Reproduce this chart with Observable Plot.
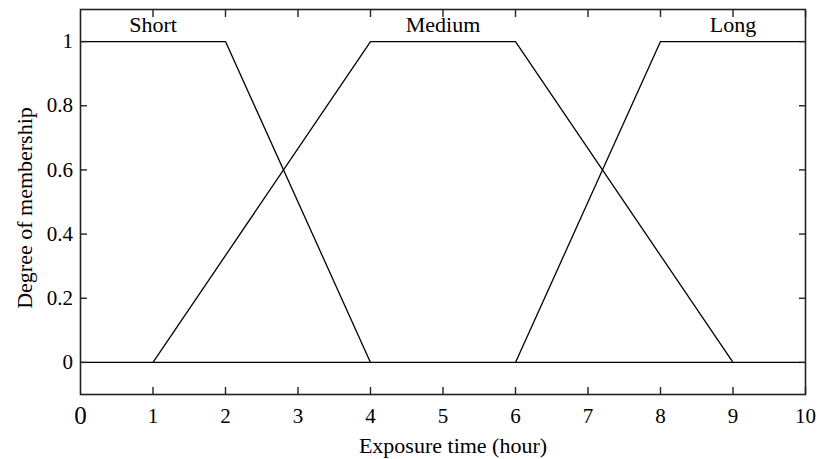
<!DOCTYPE html>
<html><head><meta charset="utf-8">
<script src="https://cdn.jsdelivr.net/npm/d3@7"></script>
<script src="https://cdn.jsdelivr.net/npm/@observablehq/plot@0.6"></script>
<style>body{margin:0;background:#fff}</style>
</head><body><div id="chart"></div>
<script>
// Membership functions (breakpoints)
const shortX = [0, 2, 4];
const shortY = [1, 1, 0];
const mediumX = [1, 4, 6, 9];
const mediumY = [0, 1, 1, 0];
const longX = [6, 8, 10];
const longY = [0, 1, 1];
const setNames = ["Short", "Medium", "Long"];
const setLabelX = [1, 5, 9];
const xTicks = [1, 2, 3, 4, 5, 6, 7, 8, 9, 10];
const yTicks = [0, 0.2, 0.4, 0.6, 0.8, 1];
const yTickLabels = ["0", "0.2", "0.4", "0.6", "0.8", "1"];
const xLabel = "Exposure time (hour)";
const yLabel = "Degree of membership";

const series = [
  ...shortX.map((x, i) => ({set: "Short", x, y: shortY[i]})),
  ...mediumX.map((x, i) => ({set: "Medium", x, y: mediumY[i]})),
  ...longX.map((x, i) => ({set: "Long", x, y: longY[i]}))
];
const labels = setNames.map((name, i) => ({name, x: setLabelX[i], y: 1}));
const font = "'Liberation Serif', 'Times New Roman', Times, serif";
const noText = () => "";
const tk = 7; // inward tick length

const chart = Plot.plot({
  width: 818,
  height: 459,
  marginLeft: 80,
  marginRight: 13,
  marginTop: 9,
  marginBottom: 65,
  x: {domain: [0, 10]},
  y: {domain: [-0.1, 1.1]},
  style: {fontFamily: font, fontSize: "21px", color: "#000", background: "#fff"},
  marks: [
    Plot.ruleY([0], {stroke: "#000", strokeWidth: 1.3}),
    Plot.line(series, {x: "x", y: "y", z: "set", stroke: "#000", strokeWidth: 1.3}),
    Plot.text(labels, {x: "x", y: "y", text: "name", lineAnchor: "middle", dy: -17, fontSize: 22, fill: "#000"}),
    // inward ticks
    Plot.axisX({anchor: "bottom", ticks: xTicks, tickSize: tk, dy: -tk, tickFormat: noText, label: null, stroke: "#222", strokeWidth: 1.4}),
    Plot.axisX({anchor: "top", ticks: xTicks, tickSize: tk, dy: tk, tickFormat: noText, label: null, stroke: "#222", strokeWidth: 1.4}),
    Plot.axisY({anchor: "left", ticks: yTicks, tickSize: tk, dx: tk, tickFormat: noText, label: null, stroke: "#222", strokeWidth: 1.4}),
    Plot.axisY({anchor: "right", ticks: yTicks, tickSize: tk, dx: -tk, tickFormat: noText, label: null, stroke: "#222", strokeWidth: 1.4}),
    // tick labels
    Plot.axisX({anchor: "bottom", ticks: xTicks, tickSize: 0, tickPadding: 14, fontSize: 21, label: null}),
    Plot.axisX({anchor: "bottom", ticks: [0], tickSize: 0, tickPadding: 12, fontSize: 25, label: null}),
    Plot.axisY({anchor: "left", ticks: yTicks, tickSize: 0, tickPadding: 7.5, fontSize: 21, tickFormat: (d) => yTickLabels[yTicks.indexOf(d)], label: null}),
    Plot.text([xLabel], {frameAnchor: "bottom", textAnchor: "middle", dx: 10, dy: 51, lineAnchor: "middle", fontSize: 22, fill: "#000"}),
    Plot.text([yLabel], {frameAnchor: "left", textAnchor: "middle", dx: -56, dy: 6, rotate: -90, lineAnchor: "middle", fontSize: 22, fill: "#000"}),
    Plot.frame({stroke: "#222", strokeWidth: 1.6})
  ]
});
document.getElementById("chart").appendChild(chart);
</script>
</body></html>
